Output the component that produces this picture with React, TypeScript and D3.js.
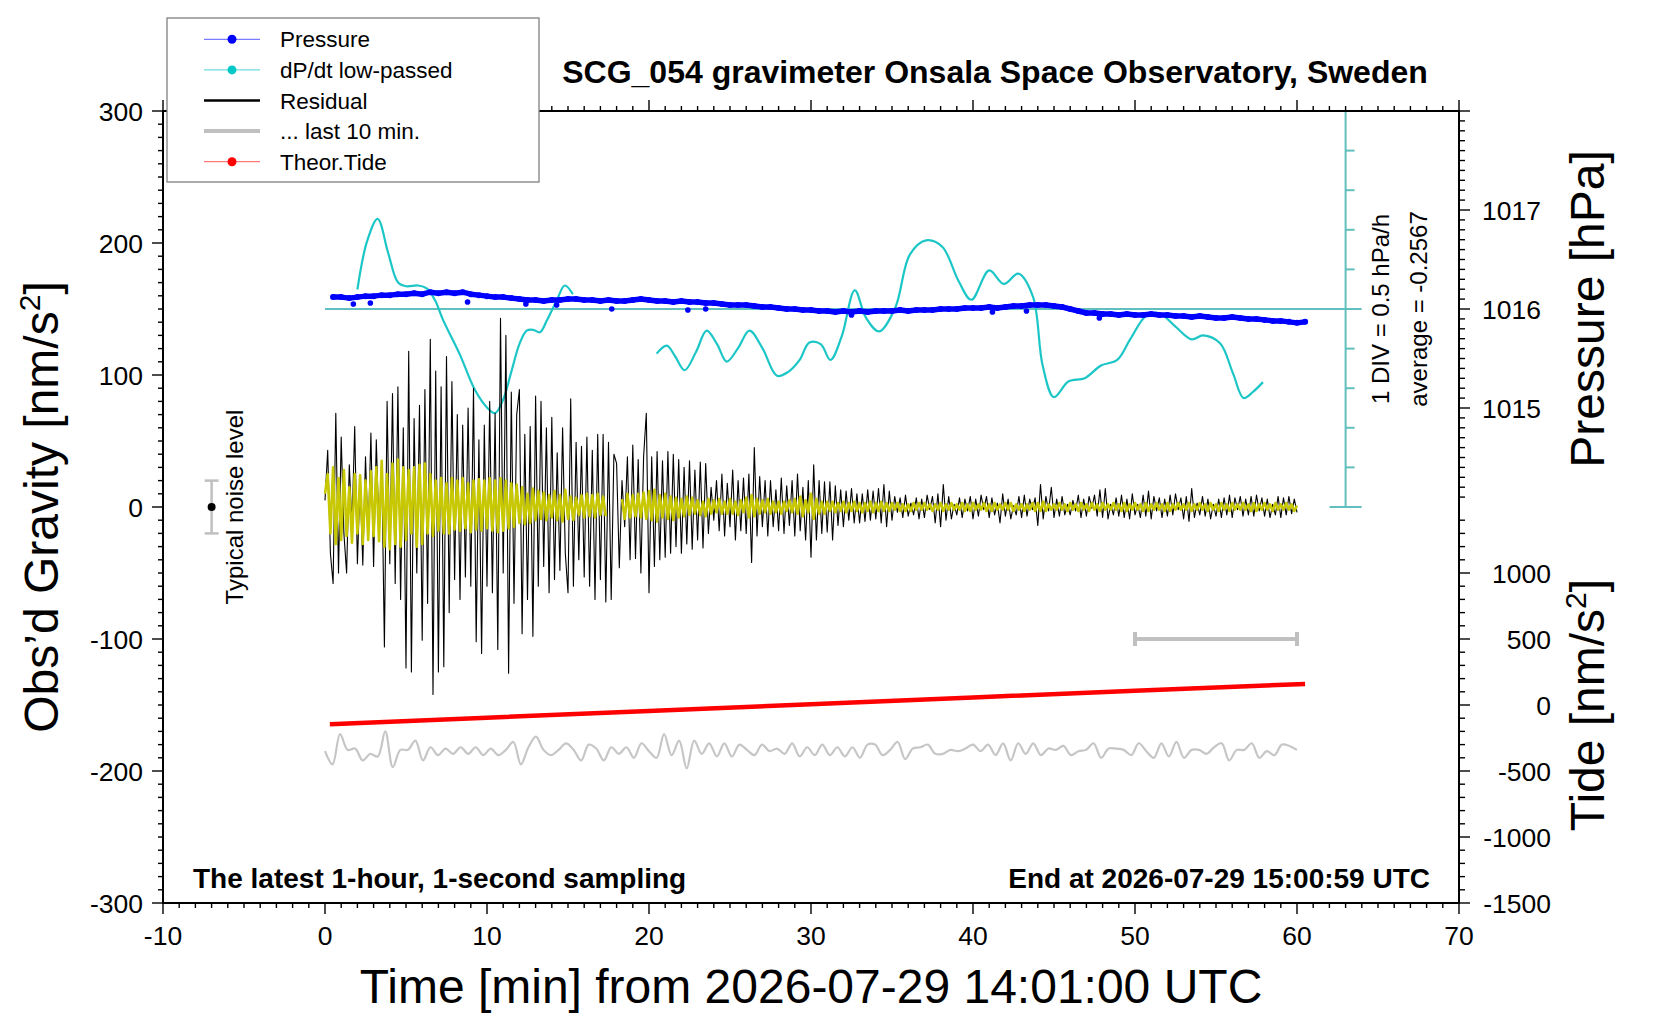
// SCG gravimeter, last hour: residual, pressure, dP/dt and tide
import React from 'react';
import * as d3 from 'd3';

const W = 1660;
const H = 1020;
const M = { left: 163, right: 1459, top: 111, bottom: 903 };
const FONT = '"Liberation Sans", Arial, Helvetica, sans-serif';

// tick labels
const timeTicks = [-10, 0, 10, 20, 30, 40, 50, 60, 70];
const gravityTicks = [-300, -200, -100, 0, 100, 200, 300];
const pressureTicks = [1015, 1016, 1017];
const tideTicks = [-1500, -1000, -500, 0, 500, 1000];

// residual gravity [nm/s2], one value every 10 s
const residualStep = 1 / 6;
const residual = [
  5, 43, -35, -58, 71, -50, 53, -20, -50, 32, -15, 61,
  -43, 20, -44, 38, -25, 56, -45, 51, -20, 35, -106, 80,
  -43, 86, -58, 91, -70, 60, -122, 118, -125, 67, -50, 77,
  -101, 89, -73, 127, -142, 103, -125, 91, -121, 114, -80, 95,
  -55, 70, -70, 62, -53, 75, -60, 90, -102, 51, -111, 62,
  -60, 80, -65, 71, -108, 143, -50, 130, -126, 87, -73, 70,
  89, -96, 55, -70, 61, -98, 84, -60, 80, -45, 60, -65,
  68, -55, 41, -48, 60, -35, -65, 82, -60, 49, -40, 46,
  -53, 53, -60, 43, -70, 55, -55, 55, -72, 49, -70, 40,
  33, -46, 20, -15, 38, -40, 47, -39, 36, -50, 38, 71,
  -65, 38, -45, 42, -40, 35, -38, 42, -35, 40, -30, 36,
  -35, 30, -28, 35, -32, 28, -25, 34, -31, 33, -20, 15,
  -10, 20, -18, 25, -22, 18, -15, 28, -25, 20, -18, 22,
  -20, 25, -42, 45, -22, 23, -15, 20, -22, 20, -15, 13,
  -18, 22, -20, 16, -14, 20, -22, 25, -18, 15, -25, 20,
  -38, 32, -25, 20, -20, 19, -19, 19, -25, 16, -14, 13,
  -15, 12, -10, 14, -12, 10, -12, 10, -11, 13, -10, 12,
  -9, 14, -12, 17, -15, 12, -10, 8, -4, 7, -8, 9,
  -7, 3, -6, 7, -9, 6, -8, 9, -2, 8, -12, 10,
  -15, 17, -10, 8, -9, 2, -6, 7, -8, 6, -3, 8,
  -9, 6, -7, 9, -2, 8, -8, 7, -6, 3, -12, 10,
  -7, 6, -9, 1, -6, 8, -8, 9, -7, 6, -2, 7,
  -14, 17, -9, 8, -3, 15, -8, 6, -7, 8, -6, 2,
  -6, 5, -3, 9, -8, 6, -7, 8, -1, 9, -7, 13,
  -8, 14, -9, 2, -6, 7, -7, 9, -8, 6, -9, 10,
  -6, 2, -8, 9, -7, 12, -9, 8, -3, 7, -8, 6,
  -7, 9, -6, 10, -2, 7, -9, 8, -11, 14, -8, 3,
  -6, 8, -7, 6, -9, 2, -7, 6, -8, 7, -6, 9,
  -8, 7, -2, 8, -7, 6, -6, 8, -7, 9, -3, 7,
  -7, 6, -8, 2, -6, 8, -8, 7, -6, 8, -5, 6,
  -4,
];

// low-passed residual (yellow), same time grid, null = gap
const residualLp = [
  10, 25, -20, 30, -28, 22, -25, 28, -22, 15, -27, 25,
  -20, 24, -28, 20, -25, 27, -22, 30, -26, 35, -30, 25,
  -32, 33, -28, 36, -30, 30, -25, 28, -20, 30, -30, 32,
  -28, 33, -20, 25, -22, 20, -18, 22, -20, 18, -20, 22,
  -17, 20, -18, 22, -16, 18, -19, 20, -17, 21, -18, 20,
  -16, 22, -18, 20, -19, 22, -18, 20, -16, 18, -15, 17,
  -12, 15, -13, 10, -12, 14, -10, 12, -9, 11, -10, 9,
  -8, 12, -10, 9, -11, 13, -9, 8, -10, 7, -6, 9,
  -8, 10, -7, 9, -8, 10, -6, 8, -7, null, null, null,
  null, null, 6, -9, 10, -8, 9, -7, 10, -8, 11, -9,
  12, -10, 13, -11, 9, -8, 10, -9, 8, -10, 7, -8,
  6, -7, 8, -6, 7, -5, 5, -6, 4, -7, 6, -5,
  5, -4, 6, -5, 4, -5, 6, -5, 4, -6, 5, -4,
  7, -8, 9, -7, 6, -5, 5, -4, 6, -5, 4, -4,
  4, -5, 4, -3, 5, -4, 6, -5, 8, -7, 5, -4,
  10, -9, 6, -5, 4, -5, 4, -3, 4, -4, 3, -3,
  4, -4, 3, -3, 4, -3, 3, -4, 3, -3, 4, -4,
  3, -3, 4, -3, 3, -3, 3, -2, 3, -3, 2, -3,
  2, -3, 3, -2, 3, -2, 3, -2, 2, -3, 2, -2,
  3, -3, 2, -2, 3, -2, 2, -2, 3, -3, 2, -3,
  3, -2, 2, -2, 3, -3, 2, -3, 3, -2, 2, -2,
  3, -2, 3, -3, 2, -2, 2, -3, 2, -2, 3, -3,
  3, -3, 4, -3, 2, -2, 2, -2, 3, -2, 2, -3,
  3, -2, 2, -3, 3, -2, 2, -3, 3, -2, 2, -3,
  3, -2, 2, -2, 3, -2, 2, -3, 3, -3, 2, -2,
  3, -2, 2, -3, 3, -3, 2, -2, 3, -2, 2, -3,
  3, -3, 2, -2, 3, -2, 2, -2, 3, -3, 2, -2,
  3, -2, 2, -3, 3, -2, 2, -3, 3, -2, 2, -3,
  3, -2, 2, -2, 3, -2, 2, -3, 3, -3, 2, -2,
  3, -2, 2, -3, 3, -2, 2, -2, 3, -2, 2, -3,
  1,
];

// "... last 10 min." trace, stretched over 0-60 min
const last10 = [
  -185, -195, -172, -184, -183, -192, -187, -189, -170, -197, -184, -184,
  -177, -192, -182, -188, -183, -187, -182, -187, -182, -188, -183, -188,
  -184, -178, -195, -182, -174, -184, -188, -184, -179, -184, -192, -180,
  -183, -192, -182, -187, -182, -190, -179, -185, -190, -172, -188, -177,
  -198, -177, -187, -179, -189, -179, -189, -180, -184, -188, -180, -185,
  -183, -187, -179, -189, -182, -188, -180, -188, -182, -189, -182, -190,
  -180, -180, -188, -184, -178, -191, -183, -182, -180, -187, -187, -184,
  -185, -183, -180, -185, -180, -188, -179, -192, -179, -187, -179, -188,
  -183, -184, -181, -188, -185, -184, -179, -190, -183, -183, -184, -188,
  -179, -185, -190, -179, -189, -178, -190, -184, -184, -187, -182, -179,
  -192, -184, -184, -179, -190, -185, -188, -180, -181, -184,
];

// pressure [hPa], every 30 s from 0.5 min
const pressureStart = 0.5;
const pressureStep = 0.5;
const pressure = [
  1016.12, 1016.12, 1016.11, 1016.12, 1016.13, 1016.13, 1016.14, 1016.14,
  1016.15, 1016.15, 1016.16, 1016.15, 1016.17, 1016.16, 1016.17, 1016.16,
  1016.17, 1016.15, 1016.14, 1016.13, 1016.12, 1016.12, 1016.11, 1016.10,
  1016.09, 1016.09, 1016.08, 1016.09, 1016.09, 1016.10, 1016.10, 1016.09,
  1016.09, 1016.08, 1016.09, 1016.08, 1016.08, 1016.09, 1016.10, 1016.09,
  1016.08, 1016.08, 1016.07, 1016.08, 1016.07, 1016.07, 1016.06, 1016.06,
  1016.05, 1016.04, 1016.04, 1016.04, 1016.03, 1016.02, 1016.02, 1016.01,
  1016.00, 1016.00, 1015.99, 1015.99, 1015.98, 1015.98, 1015.97, 1015.98,
  1015.97, 1015.98, 1015.97, 1015.98, 1015.98, 1015.98, 1015.99, 1015.98,
  1015.99, 1015.99, 1015.99, 1016.00, 1016.00, 1016.00, 1016.01, 1016.01,
  1016.01, 1016.02, 1016.01, 1016.02, 1016.03, 1016.03, 1016.04, 1016.04,
  1016.04, 1016.03, 1016.02, 1016.00, 1015.98, 1015.96, 1015.96, 1015.95,
  1015.95, 1015.94, 1015.95, 1015.94, 1015.94, 1015.95, 1015.94, 1015.94,
  1015.93, 1015.93, 1015.92, 1015.93, 1015.92, 1015.91, 1015.91, 1015.92,
  1015.91, 1015.90, 1015.90, 1015.89, 1015.88, 1015.88, 1015.87, 1015.86,
  1015.87,
];
const pressureOutT = [1.75, 2.8, 8.8, 12.4, 14.3, 17.7, 22.4, 23.5, 32.5, 41.2, 43.3, 47.8];
const pressureOutV = [1016.05, 1016.06, 1016.07, 1016.05, 1016.04, 1016.0, 1015.99, 1016.0, 1015.94, 1015.97, 1015.98, 1015.91];

// dP/dt low-passed [hPa/h]
const dpdtAverage = -0.2567;
const dpdtT1 = [2.0, 2.6, 3.25, 3.9, 4.5, 5.0, 5.75, 6.3, 6.8, 7.3, 8.3, 9.26, 10.0, 10.5, 11.0, 11.5, 12.0, 12.45, 12.85, 13.27, 13.7, 14.3, 14.8, 15.3];
const dpdtV1 = [-0.01, 0.6, 0.88, 0.45, 0.08, 0.03, 0.04, 0.0, -0.15, -0.4, -0.82, -1.28, -1.5, -1.57, -1.4, -1.05, -0.7, -0.53, -0.52, -0.55, -0.4, -0.15, 0.04, -0.07];
const dpdtT2 = [20.47, 21.1, 21.6, 22.2, 22.9, 23.56, 24.2, 24.8, 25.5, 26.2, 27.0, 27.9, 28.6, 29.3, 29.9, 30.6, 31.2, 31.9, 32.7, 33.4, 34.2, 35.2, 36.1, 37.1, 38.1, 39.1, 39.9, 41.0, 41.9, 42.8, 43.7, 44.3, 45.0, 45.9, 46.9, 47.9, 48.9, 49.7, 50.7, 51.5, 52.5, 53.5, 54.2, 55.25, 56.05, 56.7, 57.3, 57.9];
const dpdtV2 = [-0.82, -0.72, -0.85, -1.03, -0.8, -0.53, -0.7, -0.92, -0.75, -0.53, -0.75, -1.1, -1.05, -0.9, -0.68, -0.7, -0.9, -0.6, -0.02, -0.37, -0.54, -0.24, 0.43, 0.61, 0.53, 0.1, -0.14, 0.23, 0.06, 0.19, -0.1, -0.97, -1.37, -1.17, -1.13, -0.97, -0.9, -0.64, -0.34, -0.31, -0.48, -0.64, -0.59, -0.69, -1.07, -1.38, -1.3, -1.18];

// theoretical tide [nm/s2]
const tideT = [0.3, 10, 20, 30, 40, 50, 60.5];
const tideV = [-145, -96, -46, 6, 57, 108, 160];

const noiseAt = -7;
const noiseHalf = 20;
const barFrom = 50;
const barTo = 60;
const barLevel = -100;
const dpdtBarAt = 63;

const x = d3.scaleLinear().domain([-10, 70]).range([M.left, M.right]);
const yG = d3.scaleLinear().domain([-300, 300]).range([M.bottom, M.top]);
const yP = d3.scaleLinear().domain([1010, 1018]).range([M.bottom, M.top]);
const yT = d3.scaleLinear().domain([-1500, 4500]).range([M.bottom, M.top]);
const yD = d3.scaleLinear().domain([dpdtAverage - 2.5, dpdtAverage + 2.5]).range([yG(0), M.top]);

const App = () => {
  const resLine = d3.line<number>().x((d, i) => x(i * residualStep)).y(d => yG(d));
  const lpLine = d3.line<number | null>()
    .defined(d => d !== null)
    .x((d, i) => x(i * residualStep)).y(d => yG(d as number));
  const lastLine = d3.line<number>()
    .curve(d3.curveCatmullRom.alpha(0.5))
    .x((d, i) => x((i * 60) / (last10.length - 1))).y(d => yG(d));
  const presLine = d3.line<number>().x((d, i) => x(pressureStart + i * pressureStep)).y(d => yP(d));
  const dpLine = (ts: number[]) =>
    d3.line<number>().curve(d3.curveCatmullRom.alpha(0.5)).x((d, i) => x(ts[i])).y(d => yD(d));
  const tideLine = d3.line<number>().x((d, i) => x(tideT[i])).y(d => yT(d));

  const teal = '#1cc6c6';
  const tealLight = '#62bfbf';
  const xb = x(dpdtBarAt);

  const legend = [
    { label: 'Pressure', color: '#0000ff', line: '#5a5aff', w: 1, dot: true },
    { label: 'dP/dt low-passed', color: '#00c8c8', line: '#50d0d0', w: 1, dot: true },
    { label: 'Residual', color: '#000', line: '#000', w: 2.5, dot: false },
    { label: '... last 10 min.', color: '#c0c0c0', line: '#c0c0c0', w: 4, dot: false },
    { label: 'Theor.Tide', color: '#ff0000', line: '#ff5a5a', w: 1, dot: true },
  ];

  return (
    <svg width={W} height={H} style={{ position: 'absolute', left: 0, top: 0, fontFamily: FONT }}>
      <rect width={W} height={H} fill="#fff" />

      {/* dP/dt scale bar */}
      <line x1={x(0)} x2={xb + 16} y1={yD(dpdtAverage)} y2={yD(dpdtAverage)} stroke={tealLight} strokeWidth={2} />
      <line x1={xb} x2={xb} y1={M.top} y2={yG(0)} stroke={tealLight} strokeWidth={2} />
      {d3.range(0, 11).map(k => {
        const v = dpdtAverage - 2.5 + k * 0.5;
        const end = k === 0 || k === 10;
        return (
          <line key={'dd' + k} x1={end ? xb - 16 : xb} x2={end ? xb + 16 : xb + 9}
            y1={yD(v)} y2={yD(v)} stroke={tealLight} strokeWidth={2} />
        );
      })}

      {/* dP/dt curves */}
      <path d={dpLine(dpdtT1)(dpdtV1) || ''} fill="none" stroke={teal} strokeWidth={2.2} />
      <path d={dpLine(dpdtT2)(dpdtV2) || ''} fill="none" stroke={teal} strokeWidth={2.2} />

      {/* pressure */}
      <path d={presLine(pressure) || ''} fill="none" stroke="#0000ff" strokeWidth={5.5} strokeLinejoin="round" strokeLinecap="round" />
      {pressure.map((p, i) => (
        <circle key={'p' + i} cx={x(pressureStart + i * pressureStep)} cy={yP(p)} r={3} fill="#0000ff" />
      ))}
      {pressureOutT.map((t, i) => (
        <circle key={'po' + i} cx={x(t)} cy={yP(pressureOutV[i])} r={2.8} fill="#0000ff" />
      ))}

      {/* residual */}
      <path d={resLine(residual) || ''} fill="none" stroke="#000" strokeWidth={1.1} strokeLinejoin="round" />
      <path d={lpLine(residualLp) || ''} fill="none" stroke="#c8c800" strokeWidth={2.6} strokeLinejoin="round" />

      {/* last 10 min */}
      <path d={lastLine(last10) || ''} fill="none" stroke="#c6c6c6" strokeWidth={2.2} strokeLinejoin="round" />

      {/* theoretical tide */}
      <path d={tideLine(tideV) || ''} fill="none" stroke="#ff0000" strokeWidth={4.5} />

      {/* 10 min bar */}
      <g stroke="#c0c0c0" strokeWidth={4}>
        <line x1={x(barFrom)} x2={x(barTo)} y1={yG(barLevel)} y2={yG(barLevel)} />
        <line x1={x(barFrom)} x2={x(barFrom)} y1={yG(barLevel) - 7} y2={yG(barLevel) + 7} />
        <line x1={x(barTo)} x2={x(barTo)} y1={yG(barLevel) - 7} y2={yG(barLevel) + 7} />
      </g>

      {/* typical noise level */}
      <g stroke="#c0c0c0" strokeWidth={2.5}>
        <line x1={x(noiseAt)} x2={x(noiseAt)} y1={yG(noiseHalf)} y2={yG(-noiseHalf)} />
        <line x1={x(noiseAt) - 7} x2={x(noiseAt) + 7} y1={yG(noiseHalf)} y2={yG(noiseHalf)} />
        <line x1={x(noiseAt) - 7} x2={x(noiseAt) + 7} y1={yG(-noiseHalf)} y2={yG(-noiseHalf)} />
      </g>
      <circle cx={x(noiseAt)} cy={yG(0)} r={4} fill="#000" />
      <text transform={`translate(${x(noiseAt) + 31},${yG(0)}) rotate(-90)`} textAnchor="middle" fontSize={24}>
        Typical noise level
      </text>

      {/* frame */}
      <rect x={M.left} y={M.top} width={M.right - M.left} height={M.bottom - M.top} fill="none" stroke="#000" strokeWidth={2} />

      {/* left axis ticks */}
      {d3.range(-300, 301, 10).map(v => (
        <line key={'gl' + v} x1={M.left - (v % 100 === 0 ? 11 : 5)} x2={M.left} y1={yG(v)} y2={yG(v)} stroke="#000" strokeWidth={1.4} />
      ))}
      {gravityTicks.map(v => (
        <text key={'gt' + v} x={M.left - 20} y={yG(v) + 9.5} textAnchor="end" fontSize={26.5}>{v}</text>
      ))}

      {/* bottom / top ticks */}
      {d3.range(-10, 71, 1).map(v => (
        <g key={'xt' + v} stroke="#000" strokeWidth={1.4}>
          <line x1={x(v)} x2={x(v)} y1={M.bottom} y2={M.bottom + (v % 10 === 0 ? 11 : 5)} />
          <line x1={x(v)} x2={x(v)} y1={M.top} y2={M.top - (v % 10 === 0 ? 11 : 5)} />
        </g>
      ))}
      {timeTicks.map(v => (
        <text key={'xl' + v} x={x(v)} y={M.bottom + 42} textAnchor="middle" fontSize={26.5}>{v}</text>
      ))}

      {/* right axis: pressure and tide */}
      {d3.range(10141, 10181).map(k => {
        const p = k / 10;
        const major = k % 10 === 0;
        return <line key={'pr' + k} x1={M.right} x2={M.right + (major ? 11 : 6)} y1={yP(p)} y2={yP(p)} stroke="#000" strokeWidth={1.4} />;
      })}
      {pressureTicks.map(v => (
        <text key={'pl' + v} x={M.right + 23} y={yP(v) + 9.5} fontSize={26.5}>{v}</text>
      ))}
      {d3.range(-1500, 1401, 100).map(v => (
        <line key={'tr' + v} x1={M.right} x2={M.right + (v % 500 === 0 ? 11 : 6)} y1={yT(v)} y2={yT(v)} stroke="#000" strokeWidth={1.4} />
      ))}
      {tideTicks.map(v => (
        <text key={'tl' + v} x={M.right + 92} y={yT(v) + 9.5} textAnchor="end" fontSize={26.5}>{v}</text>
      ))}

      {/* dP/dt scale texts */}
      <text transform={`translate(1389,${yD(dpdtAverage)}) rotate(-90)`} textAnchor="middle" fontSize={24}>1 DIV = 0.5 hPa/h</text>
      <text transform={`translate(1427,${yD(dpdtAverage)}) rotate(-90)`} textAnchor="middle" fontSize={24}>average = {dpdtAverage}</text>

      {/* axis titles */}
      <text transform={`translate(58,${yG(0)}) rotate(-90)`} textAnchor="middle" fontSize={48}>
        Obs’d Gravity [nm/s<tspan dy={-18} fontSize={30}>2</tspan><tspan dy={18}>]</tspan>
      </text>
      <text transform={`translate(1604,${yP(1016)}) rotate(-90)`} textAnchor="middle" fontSize={48}>Pressure [hPa]</text>
      <text transform={`translate(1604,${yT(0)}) rotate(-90)`} textAnchor="middle" fontSize={48}>
        Tide [nm/s<tspan dy={-18} fontSize={30}>2</tspan><tspan dy={18}>]</tspan>
      </text>
      <text x={(M.left + M.right) / 2} y={1003} textAnchor="middle" fontSize={48}>
        Time [min] from 2026-07-29 14:01:00 UTC
      </text>

      <text x={995} y={83} textAnchor="middle" fontSize={32} fontWeight="bold">
        SCG_054 gravimeter Onsala Space Observatory, Sweden
      </text>
      <text x={193} y={888} fontSize={28} fontWeight="bold">The latest 1-hour, 1-second sampling</text>
      <text x={1430} y={888} textAnchor="end" fontSize={28} fontWeight="bold">End at 2026-07-29 15:00:59 UTC</text>

      {/* legend */}
      <rect x={167} y={18} width={372} height={164} fill="#fff" stroke="#808080" strokeWidth={1.3} />
      {legend.map((l, i) => {
        const ly = 39.3 + i * 30.6;
        return (
          <g key={'lg' + i}>
            <line x1={204} x2={260} y1={ly} y2={ly} stroke={l.line} strokeWidth={l.w} />
            {l.dot && <circle cx={232} cy={ly} r={4.5} fill={l.color} />}
            <text x={280} y={ly + 8} fontSize={22.5}>{l.label}</text>
          </g>
        );
      })}
    </svg>
  );
};

export default App;
